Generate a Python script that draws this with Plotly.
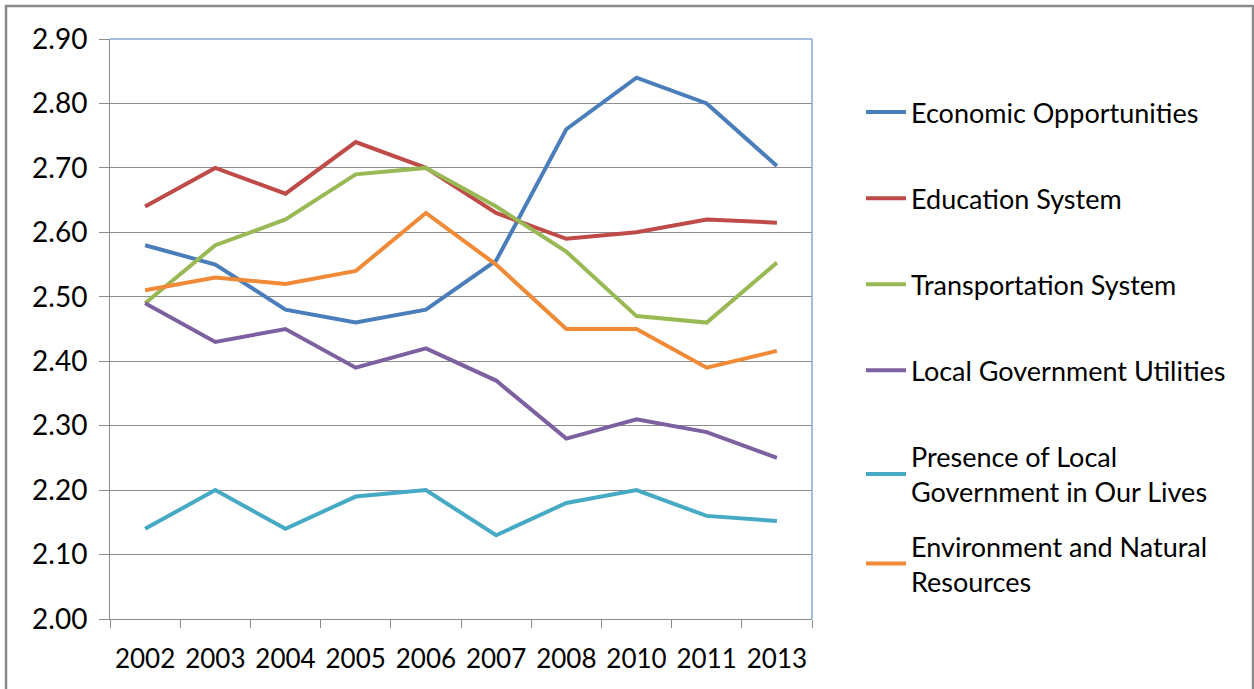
import plotly.graph_objects as go

years = ["2002", "2003", "2004", "2005", "2006", "2007", "2008", "2010", "2011", "2013"]

economic = [2.58, 2.55, 2.48, 2.46, 2.48, 2.556, 2.76, 2.84, 2.80, 2.703]
education = [2.64, 2.70, 2.66, 2.74, 2.70, 2.63, 2.59, 2.60, 2.62, 2.615]
transport = [2.49, 2.58, 2.62, 2.69, 2.70, 2.64, 2.57, 2.47, 2.46, 2.553]
utilities = [2.49, 2.43, 2.45, 2.39, 2.42, 2.37, 2.28, 2.31, 2.29, 2.25]
presence = [2.14, 2.20, 2.14, 2.19, 2.20, 2.13, 2.18, 2.20, 2.16, 2.152]
environment = [2.51, 2.53, 2.52, 2.54, 2.63, 2.55, 2.45, 2.45, 2.39, 2.416]

series = [
    ("Economic Opportunities", economic, "#4A7EBB"),
    ("Education System", education, "#BE4B48"),
    ("Transportation System", transport, "#98B954"),
    ("Local Government Utilities", utilities, "#7D60A0"),
    ("Presence of Local<br>Government in Our Lives", presence, "#46AAC5"),
    ("Environment and Natural<br>Resources", environment, "#F08A36"),
]

W, H = 1254, 689
L, R, T, B = 110, 812, 39, 619


def xp(px):
    return (px - L) / (R - L)


def yp(py):
    return (B - py) / (B - T)


fig = go.Figure()
for i, (name, vals, col) in enumerate(series):
    fig.add_trace(go.Scatter(
        x=years, y=vals, mode="lines", name=name,
        line=dict(color=col, width=4),
        legendgroup=f"g{i}",
        legend="legend2" if i == 5 else "legend",
    ))

grid = "#8C8C8C"
leg_font = dict(family="Lato", size=27, color="black")
fig.update_layout(
    width=W, height=H,
    margin=dict(l=L, r=W - R, t=T, b=H - B),
    paper_bgcolor="white", plot_bgcolor="white",
    font=dict(family="Lato", size=26, color="black"),
    showlegend=True,
    legend=dict(
        x=xp(861), y=yp(88), xanchor="left", yanchor="top",
        font=leg_font, tracegroupgap=48, bgcolor="rgba(0,0,0,0)", itemwidth=40,
    ),
    legend2=dict(
        x=xp(861), y=yp(522), xanchor="left", yanchor="top",
        font=leg_font, bgcolor="rgba(0,0,0,0)", itemwidth=40,
    ),
    xaxis=dict(
        type="category", range=[-0.5, 9.5], tickson="boundaries",
        showgrid=False, showline=True, linecolor=grid, linewidth=1,
        ticks="outside", ticklen=8, tickcolor=grid, tickwidth=1,
        ticklabelstandoff=17, fixedrange=True,
        tickfont=dict(family="Lato", size=26, color="black"),
    ),
    yaxis=dict(
        range=[2.0, 2.9], tickvals=[2.0 + 0.1 * k for k in range(10)],
        tickformat=".2f", showgrid=True, gridcolor=grid, gridwidth=1,
        showline=True, linecolor=grid, linewidth=1,
        ticks="outside", ticklen=10, tickcolor=grid, tickwidth=1,
        ticklabelstandoff=6, zeroline=False, fixedrange=True,
        tickfont=dict(family="Lato", size=28, color="black"),
    ),
    shapes=[
        dict(type="line", xref="paper", yref="paper", x0=0, x1=1, y0=1, y1=1,
             line=dict(color="#86A8D6", width=1.5)),
        dict(type="line", xref="paper", yref="paper", x0=1, x1=1, y0=0, y1=1,
             line=dict(color="#86A8D6", width=1.5)),
        dict(type="rect", xref="paper", yref="paper",
             x0=xp(6), x1=xp(1253), y0=yp(720), y1=yp(6),
             line=dict(color="#8A8A8A", width=2.5), fillcolor="rgba(0,0,0,0)",
             layer="below"),
    ],
)

fig.write_html("out.html")
